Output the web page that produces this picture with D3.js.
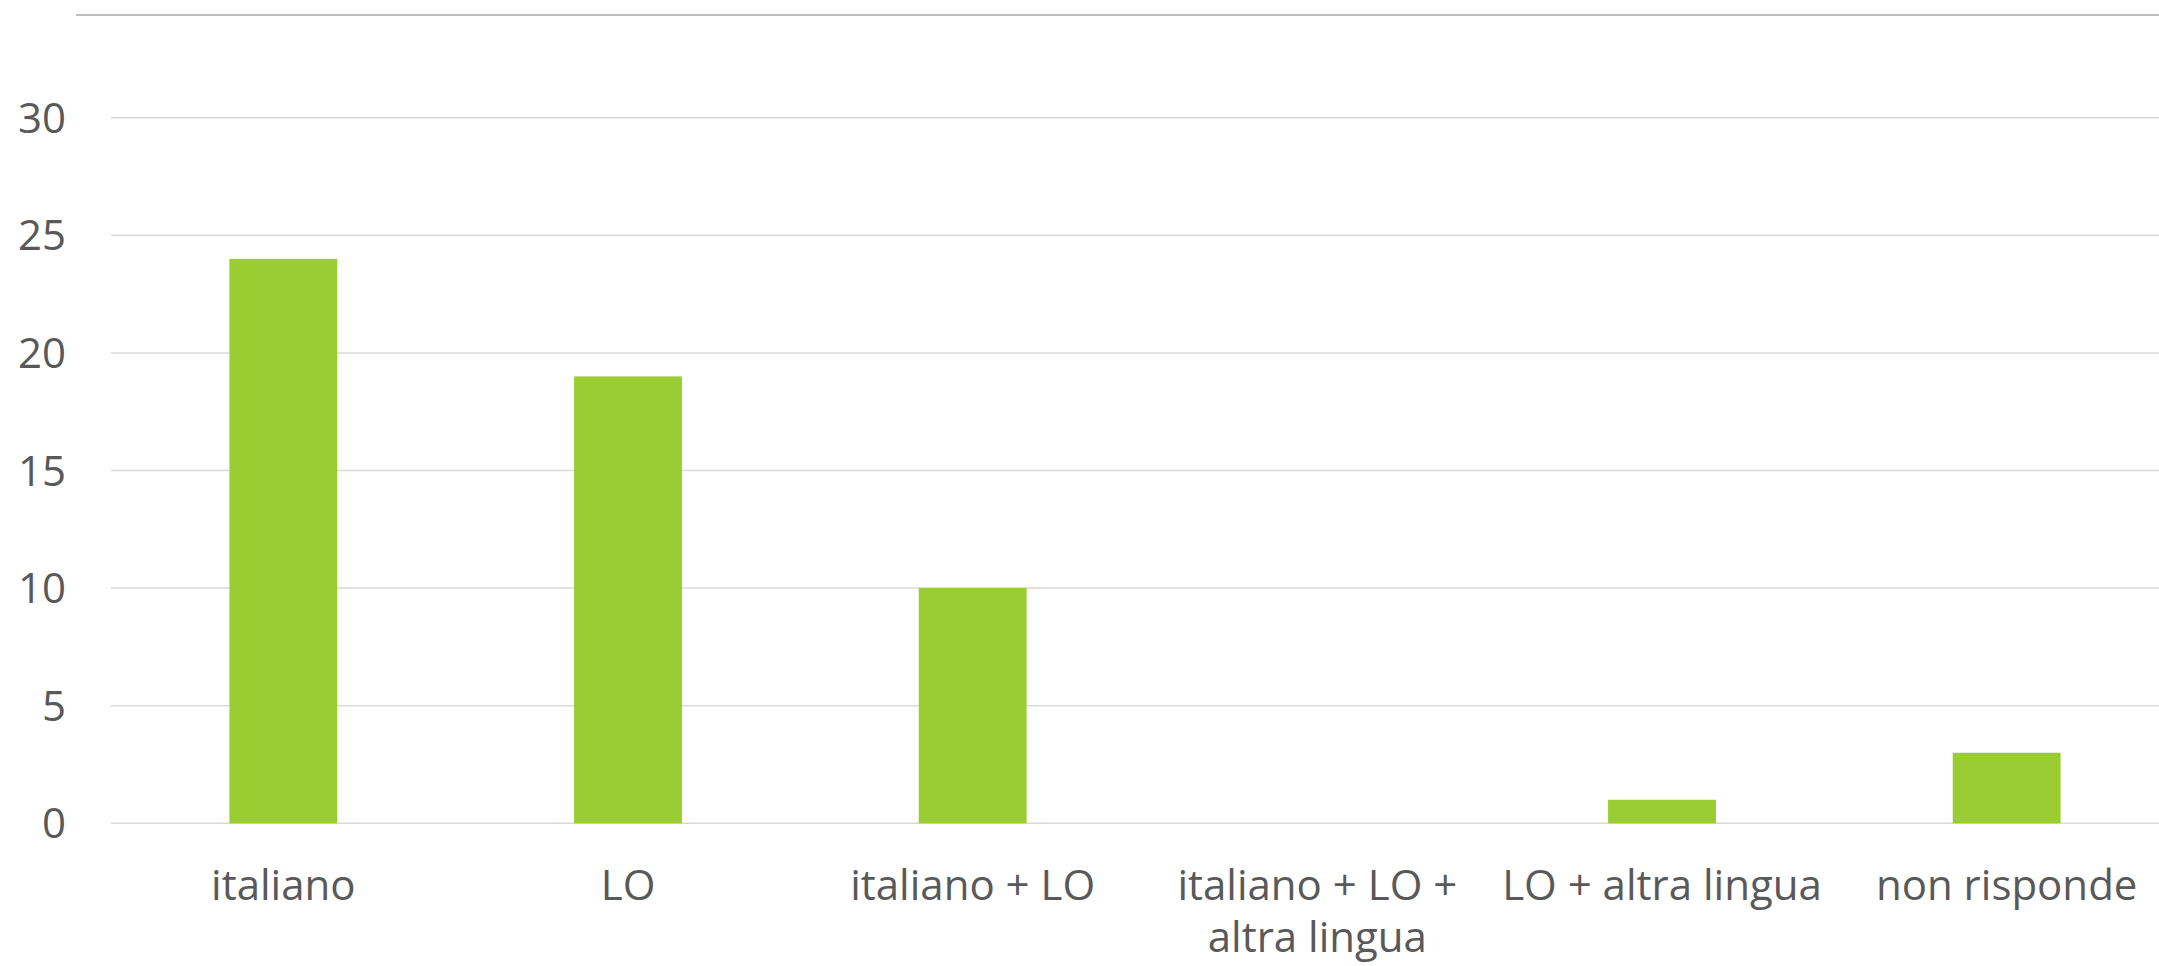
<!DOCTYPE html>
<html>
<head>
<meta charset="utf-8">
<script src="https://cdn.jsdelivr.net/npm/d3@7"></script>
<style>
  html, body { margin: 0; padding: 0; background: #fff; }
  svg { display: block; }
  .tick-label, .cat-label { font-family: "Open Sans", sans-serif; fill: #595959; }
</style>
</head>
<body>
<div id="chart"></div>
<script>

/////////////////////
// Data
/////////////////////

var categories = [["italiano"], ["LO"], ["italiano + LO"], ["italiano + LO +", "altra lingua"], ["LO + altra lingua"], ["non risponde"]];
var values = [24, 19, 10, 0, 1, 3];
var yTicks = [0, 5, 10, 15, 20, 25, 30];

var data = categories.map(function(c, i) { return {lines: c, key: c.join(" "), value: values[i]}; });

/////////////////////
// Layout
/////////////////////

var width = 2159, height = 966;
var plot = {left: 111, right: 2179, top: 117.7, bottom: 823.3};

var svg = d3.select("#chart").append("svg")
    .attr("width", width)
    .attr("height", height);

var x = d3.scaleBand()
    .domain(data.map(function(d) { return d.key; }))
    .range([plot.left, plot.right])
    .paddingInner(0.687)
    .paddingOuter(0.3435);

var y = d3.scaleLinear()
    .domain([0, 30])
    .range([plot.bottom, plot.top]);

// top border line
svg.append("line")
    .attr("x1", 76).attr("x2", width)
    .attr("y1", 15).attr("y2", 15)
    .attr("stroke", "#a6a6a6")
    .attr("stroke-width", 1.6);

// gridlines
svg.append("g").selectAll("line")
    .data(yTicks)
  .enter().append("line")
    .attr("x1", plot.left).attr("x2", plot.right)
    .attr("y1", function(d) { return y(d); })
    .attr("y2", function(d) { return y(d); })
    .attr("stroke", "#d9d9d9")
    .attr("stroke-width", 1.5);

// y labels
svg.append("g").selectAll("text")
    .data(yTicks)
  .enter().append("text")
    .attr("class", "tick-label")
    .attr("x", 66)
    .attr("y", function(d) { return y(d); })
    .attr("dy", "0.36em")
    .attr("text-anchor", "end")
    .style("font-size", "42px")
    .text(function(d) { return d; });

// bars
svg.append("g").selectAll("rect")
    .data(data)
  .enter().append("rect")
    .attr("x", function(d) { return x(d.key); })
    .attr("width", x.bandwidth())
    .attr("y", function(d) { return y(d.value); })
    .attr("height", function(d) { return y(0) - y(d.value); })
    .attr("fill", "#9acd32");

// category labels
var label = svg.append("g").selectAll("text")
    .data(data)
  .enter().append("text")
    .attr("class", "cat-label")
    .attr("text-anchor", "middle")
    .style("font-size", "42px")
    .attr("transform", function(d) { return "translate(" + (x(d.key) + x.bandwidth() / 2) + ",900)"; });

label.selectAll("tspan")
    .data(function(d) { return d.lines; })
  .enter().append("tspan")
    .attr("x", 0)
    .attr("y", function(d, i) { return i * 52; })
    .text(function(d) { return d; });

</script>
</body>
</html>
